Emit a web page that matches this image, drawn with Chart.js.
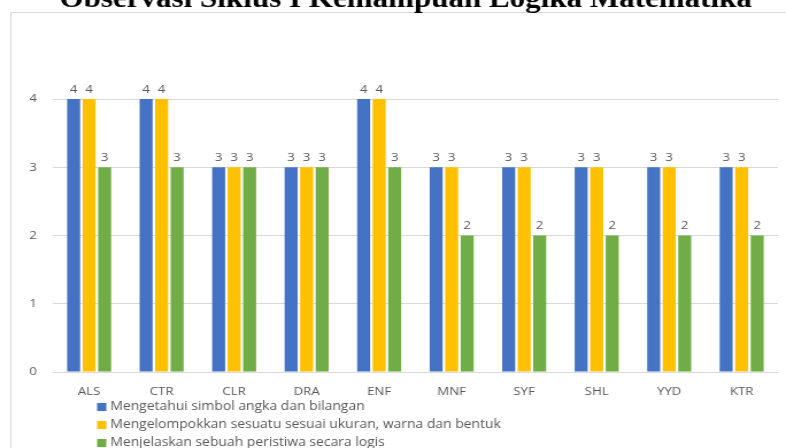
<!DOCTYPE html>
<html>
<head>
<meta charset="utf-8">
<script src="https://cdn.jsdelivr.net/npm/chart.js@4.4.1/dist/chart.umd.min.js"></script>
<style>
  html, body { margin: 0; padding: 0; background: #fff; overflow: hidden; }
  #wrap { width: 684px; height: 448px; transform-origin: 0 0; transform: scaleX(1.1491); }
</style>
</head>
<body>
<div id="wrap"><canvas id="myChart" width="684" height="448"></canvas></div>
<script>
// students observed in cycle I
var students = ['ALS', 'CTR', 'CLR', 'DRA', 'ENF', 'MNF', 'SYF', 'SHL', 'YYD', 'KTR'];
// scores per indicator
var simbolAngka = [4, 4, 3, 3, 4, 3, 3, 3, 3, 3];
var mengelompokkan = [4, 4, 3, 3, 4, 3, 3, 3, 3, 3];
var peristiwaLogis = [3, 3, 3, 3, 3, 2, 2, 2, 2, 2];
var seriesNames = [
    'Mengetahui simbol angka dan bilangan',
    'Mengelompokkan sesuatu sesuai ukuran, warna dan bentuk',
    'Menjelaskan sebuah peristiwa secara logis'
];
var seriesColors = ['#4472C4', '#FFC000', '#70AD47'];
var titleText = 'Observasi Siklus I Kemampuan Logika Matematika';

var labelFont = '"Open Sans", Lato, sans-serif';
var greyText = '#595959';

// border, title, value labels and legend
var chartDecor = {
    id: 'chartDecor',
    beforeDraw: function(chart) {
        var ctx = chart.ctx;
        ctx.save();
        ctx.fillStyle = '#ffffff';
        ctx.fillRect(0, 0, chart.width, chart.height);
        ctx.strokeStyle = '#d9d9d9';
        ctx.lineWidth = 1;
        ctx.strokeRect(9.5, 12.5, chart.width + 20, chart.height + 20);
        ctx.restore();
    },
    afterDraw: function(chart) {
        var ctx = chart.ctx;
        ctx.save();

        ctx.font = 'bold 27px "Liberation Serif", "Times New Roman", serif';
        ctx.fillStyle = '#000000';
        ctx.textAlign = 'center';
        ctx.textBaseline = 'alphabetic';
        ctx.fillText(titleText, 353, 7);

        // numbers above the bars
        ctx.font = '11.5px ' + labelFont;
        ctx.fillStyle = greyText;
        ctx.textBaseline = 'bottom';
        chart.data.datasets.forEach(function(ds, i) {
            var meta = chart.getDatasetMeta(i);
            meta.data.forEach(function(bar, j) {
                ctx.fillText(ds.data[j], bar.x, bar.y - 4);
            });
        });

        // legend, one item per line
        ctx.font = '12.1px ' + labelFont;
        ctx.textAlign = 'left';
        ctx.textBaseline = 'middle';
        var rows = [407, 425, 443];
        chart.data.datasets.forEach(function(ds, i) {
            ctx.fillStyle = ds.backgroundColor;
            ctx.fillRect(84.5, rows[i] - 4, 8, 8);
            ctx.fillStyle = greyText;
            ctx.fillText(ds.label, 96, rows[i]);
        });
        ctx.restore();
    }
};

var ctx = document.getElementById('myChart').getContext('2d');
var chart = new Chart(ctx, {
    type: 'bar',
    data: {
        labels: students,
        datasets: [{
            label: seriesNames[0],
            data: simbolAngka,
            backgroundColor: seriesColors[0]
        }, {
            label: seriesNames[1],
            data: mengelompokkan,
            backgroundColor: seriesColors[1]
        }, {
            label: seriesNames[2],
            data: peristiwaLogis,
            backgroundColor: seriesColors[2]
        }]
    },
    options: {
        responsive: false,
        animation: false,
        categoryPercentage: 0.642,
        barPercentage: 0.837,
        layout: {
            padding: { top: 99, right: 7, bottom: 0, left: 0 }
        },
        plugins: {
            legend: { display: false },
            title: { display: false },
            tooltip: { enabled: false }
        },
        scales: {
            x: {
                grid: { display: false },
                border: { display: false },
                ticks: {
                    color: greyText,
                    font: { family: labelFont, size: 11.5 },
                    padding: 5,
                    maxRotation: 0
                },
                afterFit: function(scale) { scale.height = 76; }
            },
            y: {
                min: 0,
                max: 4,
                grid: { color: '#d9d9d9', drawTicks: false },
                border: { display: false },
                ticks: {
                    stepSize: 1,
                    color: greyText,
                    font: { family: labelFont, size: 11.5 },
                    padding: 14
                },
                afterFit: function(scale) { scale.width = 46; }
            }
        }
    },
    plugins: [chartDecor]
});
</script>
</body>
</html>
